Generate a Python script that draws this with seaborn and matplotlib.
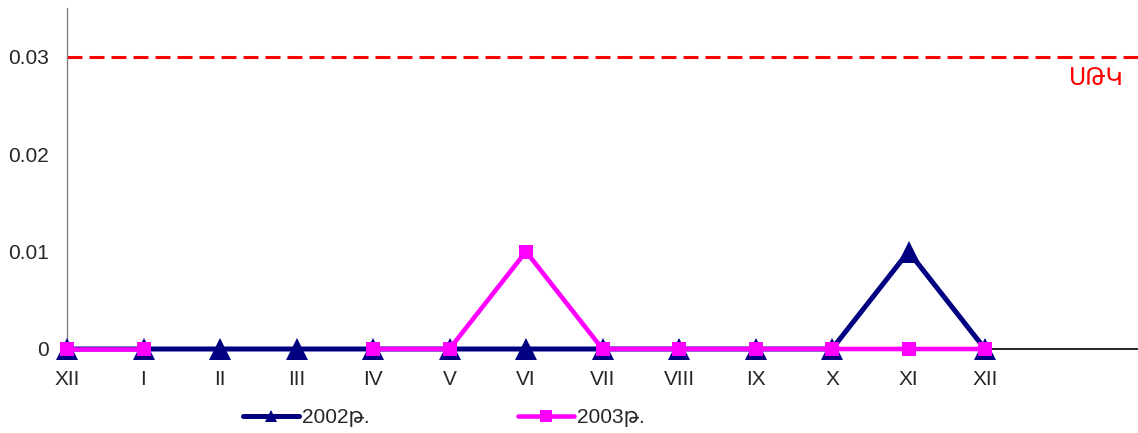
import numpy as np
import pandas as pd
import seaborn as sns
import matplotlib.pyplot as plt

months = ["XII", "I", "II", "III", "IV", "V", "VI", "VII", "VIII", "IX", "X", "XI", "XII"]
vals_2002 = [0, 0, 0, 0, 0, 0, 0, 0, 0, 0, 0, 0.01, 0]
vals_2003 = [0, 0, np.nan, np.nan, 0, 0, 0.01, 0, 0, 0, 0, 0, 0]
limit_value = 0.03
limit_label = "ՍԹԿ"
series_names = ["2002թ.", "2003թ."]

sns.set_style("white")
plt.rcParams['font.family'] = ['Liberation Sans', 'DejaVu Sans']
plt.rcParams['font.size'] = 15

C02 = "#000080"
C03 = "#FF00FF"


def to_frame(vals):
    df = pd.DataFrame({"x": np.arange(len(vals)), "y": vals})
    # break the line at missing months
    df["seg"] = df["y"].isna().cumsum()
    return df.dropna()


fig = plt.figure(figsize=(11.38, 4.33), dpi=100)
ax = fig.add_axes([67 / 1138, 84 / 433, 1 - 67 / 1138, (349 - 8) / 433])

d02 = to_frame(vals_2002)
d03 = to_frame(vals_2003)
sns.lineplot(data=d02, x="x", y="y", units="seg", estimator=None, sort=False,
             color=C02, lw=3.6, marker="^", markersize=16, markeredgewidth=0,
             ax=ax, legend=False)
n02 = len(ax.lines)
sns.lineplot(data=d03, x="x", y="y", units="seg", estimator=None, sort=False,
             color=C03, lw=3.3, marker="s", markersize=9.5, markeredgewidth=0,
             ax=ax, legend=False)
for i, l in enumerate(ax.lines):
    l.set_clip_on(False)
    l.set_zorder(3 if i < n02 else 4)

ax.axhline(limit_value, color="#FF0000", lw=2.2, dashes=(4.9, 2.3), zorder=1)
ax.text(13.45, 0.0277, limit_label, color="#FF0000", fontsize=17,
        ha="center", va="center")

ax.set_xlim(0, 14)
ax.set_ylim(0, 0.035)
ax.set_xticks(np.arange(14))
ax.set_xticklabels(months + [""])
ax.set_yticks([0, 0.01, 0.02, 0.03])
ax.set_yticklabels(["0", "0.01", "0.02", "0.03"])
ax.set_xlabel("")
ax.set_ylabel("")
ax.tick_params(axis="x", length=4, width=1.2, color="#808080", pad=11, direction="out")
ax.tick_params(axis="y", length=5, width=1, color="#404040", pad=8, direction="out")
for s in ["top", "right"]:
    ax.spines[s].set_visible(False)
ax.spines["left"].set_color("#808080")
ax.spines["left"].set_linewidth(1)
ax.spines["bottom"].set_color("black")
ax.spines["bottom"].set_linewidth(1.2)

h1 = plt.Line2D([], [], color=C02, lw=3.6, marker="^", markersize=9, markeredgewidth=0)
h2 = plt.Line2D([], [], color=C03, lw=3.3, marker="s", markersize=9, markeredgewidth=0)
fig.legend([h1, h2], series_names, ncol=2, frameon=False, loc="center",
           bbox_to_anchor=(0.39, 0.035), handlelength=2.7, handletextpad=0.15,
           columnspacing=7.1, fontsize=15)

fig.savefig("out.png", dpi=100)
